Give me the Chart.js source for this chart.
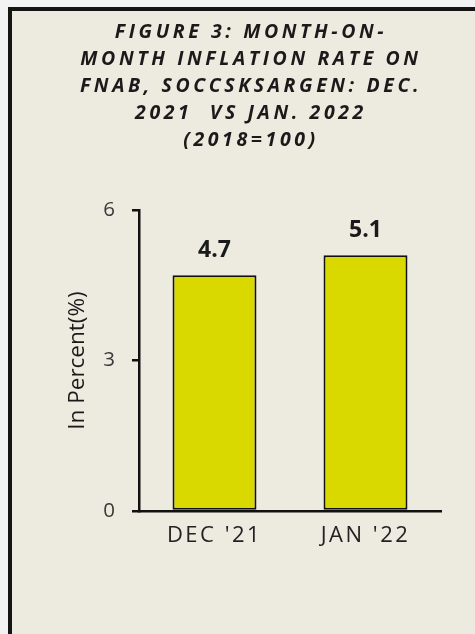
<!DOCTYPE html>
<html>
<head>
<meta charset="utf-8">
<script src="https://cdn.jsdelivr.net/npm/chart.js@4/dist/chart.umd.min.js"></script>
<style>
  html, body { margin: 0; padding: 0; width: 475px; height: 634px; overflow: hidden; background: #f2f2f2; }
  #panel { position: absolute; left: 8px; top: 7px; width: 520px; height: 700px; border: 4px solid #141414; background: #edeae0; }
  #c { position: absolute; left: 0; top: 0; }
</style>
</head>
<body>
<div id="panel"><canvas id="c" width="476" height="623"></canvas></div>
<script>
const categories = ["DEC '21", "JAN '22"];
const values = [4.7, 5.1];
const yTicks = [0, 3, 6];
const titleLines = ["FIGURE 3: MONTH-ON-", "MONTH INFLATION RATE ON", "FNAB, SOCCSKSARGEN: DEC.", "2021  VS JAN. 2022", "(2018=100)"];
const yTitle = "In Percent(%)";

const FONT = "'Open Sans', 'DejaVu Sans', sans-serif";

const spacingPlugin = {
  id: 'spacing',
  beforeLayout(chart) {
    const wrap = (obj, sp, dx) => {
      if (!obj || obj._wrapped) return;
      const orig = obj.draw;
      obj.draw = function (a) {
        const c = chart.ctx;
        c.save();
        c.letterSpacing = sp;
        if (dx) c.translate(dx, 0);
        orig.call(this, a);
        c.restore();
      };
      obj._wrapped = true;
    };
    wrap(chart.titleBlock, '3.6px', 24.5);
    wrap(chart.scales.x, '2.5px', 0);
  }
};

const labelPlugin = {
  id: 'barLabels',
  afterDatasetsDraw(chart) {
    const ctx = chart.ctx;
    const meta = chart.getDatasetMeta(0);
    ctx.save();
    ctx.font = "bold 23px " + FONT;
    ctx.fillStyle = '#1a1a1a';
    ctx.textAlign = 'center';
    ctx.textBaseline = 'middle';
    meta.data.forEach((bar, i) => {
      ctx.fillText(values[i].toFixed(1), bar.x, bar.y - 25);
    });
    ctx.restore();
  }
};

new Chart(document.getElementById('c'), {
  type: 'bar',
  data: {
    labels: categories,
    datasets: [{
      data: values,
      backgroundColor: '#d9d900',
      borderColor: '#111111',
      borderWidth: 2,
      borderSkipped: false,
      categoryPercentage: 1.0,
      barPercentage: 0.556
    }]
  },
  options: {
    responsive: false,
    animation: false,
    devicePixelRatio: 1,
    layout: { padding: { left: 0, right: 47, top: 0, bottom: 0 } },
    plugins: {
      legend: { display: false },
      tooltip: { enabled: false },
      title: {
        display: true,
        text: titleLines,
        color: '#1a1a1a',
        font: { family: FONT, size: 19.5, weight: 'bold', style: 'italic', lineHeight: '27px' },
        padding: { top: 8, bottom: 56 }
      }
    },
    scales: {
      x: {
        grid: { display: true, drawOnChartArea: false, drawTicks: false },
        border: { display: true, color: '#111111', width: 2.5 },
        ticks: { color: '#222222', font: { family: FONT, size: 22 }, padding: 12 },
        afterFit(s) { s.height = 123; }
      },
      y: {
        min: 0, max: 6,
        afterBuildTicks(s) { s.ticks = yTicks.map(v => ({ value: v })); },
        grid: { drawOnChartArea: false, drawTicks: true, tickLength: 7, color: '#111111', lineWidth: 2.5 },
        border: { display: true, color: '#111111', width: 2.5 },
        ticks: { color: '#3a3a3a', font: { family: FONT, size: 20.5 }, padding: 17 },
        title: { display: true, text: yTitle, color: '#1a1a1a', font: { family: FONT, size: 22.5 }, padding: { top: 52, bottom: 0 } },
        afterFit(s) { s.width = 127; }
      }
    }
  },
  plugins: [spacingPlugin, labelPlugin]
});
</script>
</body>
</html>
